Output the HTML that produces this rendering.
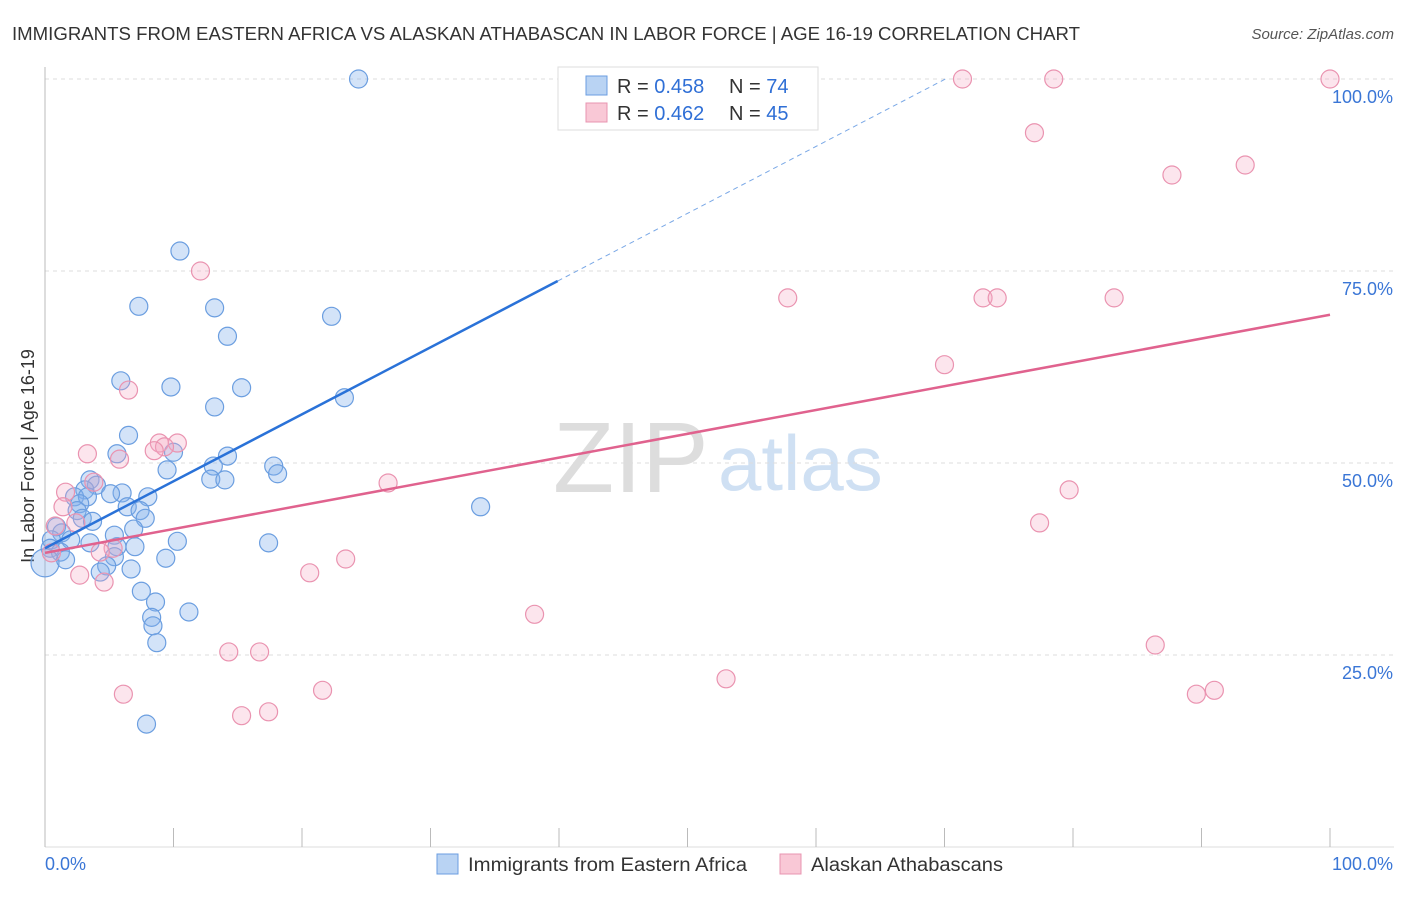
<!DOCTYPE html>
<html><head><meta charset="utf-8"><style>
body{margin:0;background:#fff;width:1406px;height:892px;overflow:hidden;font-family:"Liberation Sans",sans-serif}
svg text{font-family:"Liberation Sans",sans-serif}
</style></head><body>
<svg id="c" width="1406" height="892">
<text x="12" y="40" font-size="18" fill="#333" textLength="1068" lengthAdjust="spacingAndGlyphs">IMMIGRANTS FROM EASTERN AFRICA VS ALASKAN ATHABASCAN IN LABOR FORCE | AGE 16-19 CORRELATION CHART</text>
<text x="1394" y="39" font-size="15" fill="#555" text-anchor="end" font-style="italic">Source: ZipAtlas.com</text>
<text x="34" y="456" font-size="18" fill="#333" text-anchor="middle" transform="rotate(-90 34 456)">In Labor Force | Age 16-19</text>
<g><text x="553" y="492" font-size="100" fill="#ddd" font-family="Liberation Serif">ZIP</text><text x="718" y="490" font-size="78" fill="#cfe0f3">atlas</text></g>
<g id="grid"></g><g id="pts"></g><g id="lines"></g>
<g>
<rect x="558" y="67" width="260" height="63" fill="#fff" stroke="#ddd"/>
<rect x="586" y="76" width="21" height="19" fill="#b9d3f3" stroke="#6b9ee0"/>
<rect x="586" y="103" width="21" height="19" fill="#f9c8d6" stroke="#e894b0"/>
<text x="617" y="93" font-size="20" fill="#333">R = <tspan fill="#2f6fd6">0.458</tspan></text>
<text x="729" y="93" font-size="20" fill="#333">N = <tspan fill="#2f6fd6">74</tspan></text>
<text x="617" y="120" font-size="20" fill="#333">R = <tspan fill="#2f6fd6">0.462</tspan></text>
<text x="729" y="120" font-size="20" fill="#333">N = <tspan fill="#2f6fd6">45</tspan></text>
</g>
<g>
<rect x="437" y="854" width="21" height="20" fill="#b9d3f3" stroke="#6b9ee0"/>
<text x="468" y="871" font-size="19" fill="#333" textLength="279" lengthAdjust="spacingAndGlyphs">Immigrants from Eastern Africa</text>
<rect x="780" y="854" width="21" height="20" fill="#f9c8d6" stroke="#e894b0"/>
<text x="811" y="871" font-size="19" fill="#333" textLength="192" lengthAdjust="spacingAndGlyphs">Alaskan Athabascans</text>
</g>
</svg>
<script>
const yTicks=[25,50,75,100];
const yTickLabels=["25.0%","50.0%","75.0%","100.0%"];
const xTicks=[0,10,20,30,40,50,60,70,80,90,100];
const blueX=[24.4,10.5,7.3,13.2,22.3,14.2,5.9,9.8,15.3,23.3,13.2,6.5,5.6,10.0,14.2,13.1,17.8,9.5,18.1,12.9,14.0,3.5,4.0,3.1,6.0,5.1,2.3,3.3,8.0,2.7,6.4,7.4,2.5,7.8,2.9,3.7,33.9,0.9,6.9,1.3,5.4,2.0,0.5,10.3,3.5,17.4,7.0,5.6,0.4,1.2,9.4,5.4,0,1.6,4.8,6.7,4.3,7.5,8.6,11.2,8.3,8.4,8.7,7.9];
const blueY=[100,77.6,70.4,70.2,69.1,66.5,60.7,59.9,59.8,58.5,57.3,53.6,51.2,51.4,50.9,49.6,49.6,49.1,48.6,47.9,47.8,47.8,47.1,46.5,46.1,46.0,45.6,45.6,45.6,44.7,44.3,43.8,43.8,42.8,42.8,42.4,44.3,41.7,41.4,40.9,40.6,40.0,40.0,39.8,39.6,39.6,39.1,39.1,38.9,38.4,37.6,37.8,37.0,37.4,36.6,36.2,35.8,33.3,31.9,30.6,29.9,28.8,26.6,16.0];
const pinkX=[71.4,78.5,100,77.0,93.4,87.7,12.1,57.8,73.0,74.1,83.2,70.0,6.5,8.9,10.3,9.3,8.5,3.3,5.8,26.7,79.7,1.6,3.8,1.4,77.4,2.4,0.8,0.5,5.3,4.3,23.4,20.6,2.7,4.6,38.1,14.3,16.7,86.4,6.1,21.6,53.0,91.0,89.6,15.3,17.4];
const pinkY=[100,100,100,93,88.8,87.5,75,71.5,71.5,71.5,71.5,62.8,59.5,52.6,52.6,52.1,51.6,51.2,50.5,47.4,46.5,46.2,47.5,44.3,42.2,42.2,41.8,38.3,38.9,38.4,37.5,35.7,35.4,34.5,30.3,25.4,25.4,26.3,19.9,20.4,21.9,20.4,19.9,17.1,17.6];
const blueTrend=[38.9,0.872];
const pinkTrend=[38.3,0.31];
const X=v=>45+v*12.85, Y=v=>847-v*7.68;
const NS="http://www.w3.org/2000/svg";
function mk(t,a,p){const e=document.createElementNS(NS,t);for(const k in a)e.setAttribute(k,a[k]);p.appendChild(e);return e;}
const g=document.getElementById('grid');
yTicks.forEach((t,i)=>{
 const l=mk('line',{x1:45,x2:1394,y1:Y(t),y2:Y(t),stroke:'#ddd','stroke-dasharray':'4,4'},g);
 
 
 const tx=mk('text',{x:1393,y:Y(t)+24,'font-size':18,fill:'#3a76d6','text-anchor':'end'},g);tx.textContent=yTickLabels[i];
 
 
});
const ax=mk('line',{x1:45,x2:45,y1:67,y2:847,stroke:'#bbb'},g);


const bx=mk('line',{x1:45,x2:1394,y1:847,y2:847,stroke:'#ddd'},g);


xTicks.forEach(t=>{const l=mk('line',{x1:X(t),x2:X(t),y1:828,y2:847,stroke:'#bbb'},g);
 
 });
const x0=mk('text',{x:45,y:870,'font-size':18,fill:'#3a76d6'},g);x0.textContent='0.0%';


const x1=mk('text',{x:1393,y:870,'font-size':18,fill:'#3a76d6','text-anchor':'end'},g);x1.textContent='100.0%';


const p=document.getElementById('pts');
blueX.forEach((v,i)=>{const c=mk('circle',{cx:X(v),cy:Y(blueY[i]),r:i==52?14:9,fill:'rgba(130,175,235,0.35)',stroke:'#6b9ee0','stroke-width':1.2},p);
 
 });
pinkX.forEach((v,i)=>{const c=mk('circle',{cx:X(v),cy:Y(pinkY[i]),r:9,fill:'rgba(245,170,195,0.3)',stroke:'#ea93b0','stroke-width':1.2},p);
 
 });
const L=document.getElementById('lines');
const bxEnd=39.9, bxMax=(100-blueTrend[0])/blueTrend[1];
const b1=mk('line',{x1:X(0),y1:Y(blueTrend[0]),x2:X(bxEnd),y2:Y(blueTrend[0]+blueTrend[1]*bxEnd),stroke:'#2a72d8','stroke-width':2.5},L);


const b2=mk('line',{x1:X(bxEnd),y1:Y(blueTrend[0]+blueTrend[1]*bxEnd),x2:X(bxMax),y2:Y(100),stroke:'#7aa8e6','stroke-width':1,'stroke-dasharray':'5,4'},L);


const p1=mk('line',{x1:X(0),y1:Y(pinkTrend[0]),x2:X(100),y2:Y(pinkTrend[0]+pinkTrend[1]*100),stroke:'#e0628e','stroke-width':2.5},L);


</script>
</body></html>
